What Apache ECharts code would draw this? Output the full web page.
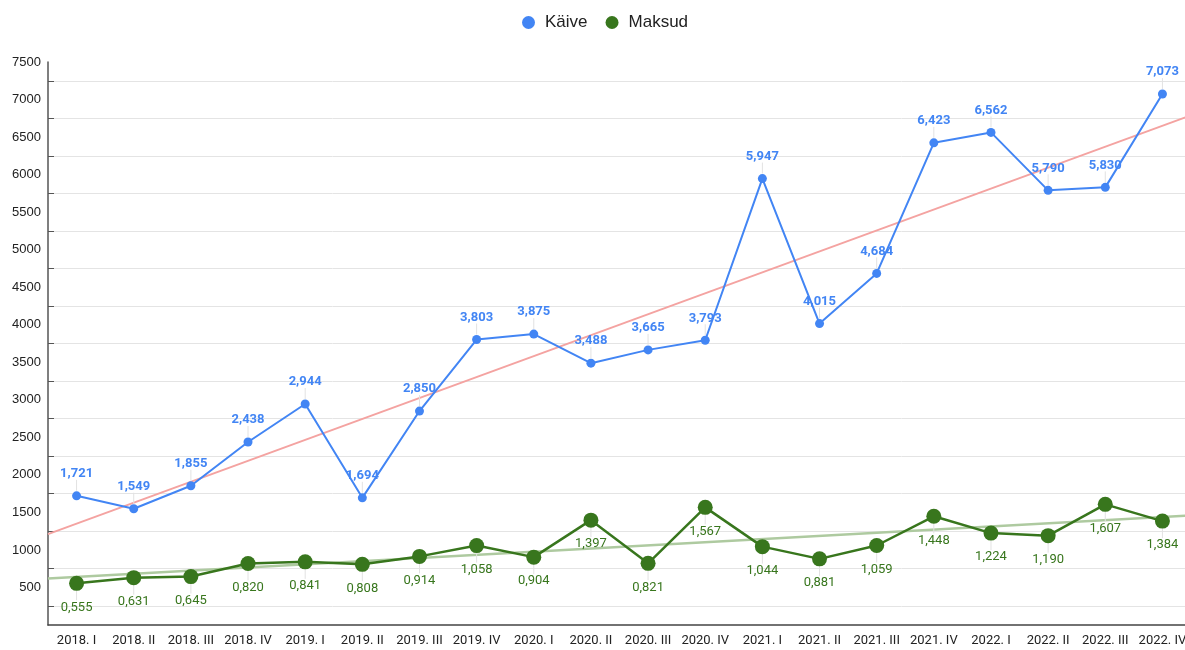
<!DOCTYPE html>
<html><head><meta charset="utf-8">
<script src="https://cdn.jsdelivr.net/npm/echarts@6/dist/echarts.min.js"></script>
<style>html,body{margin:0;padding:0;background:#fff}#c{width:1185px;height:650px}</style>
</head><body><div id="c"></div>
<script>
const categories = ['2018. I','2018. II','2018. III','2018. IV','2019. I','2019. II','2019. III','2019. IV','2020. I','2020. II','2020. III','2020. IV','2021. I','2021. II','2021. III','2021. IV','2022. I','2022. II','2022. III','2022. IV'];
const kaive = [1721,1549,1855,2438,2944,1694,2850,3803,3875,3488,3665,3793,5947,4015,4684,6423,6562,5790,5830,7073];
const maksud = [555,631,645,820,841,808,914,1058,904,1397,821,1567,1044,881,1059,1448,1224,1190,1607,1384];
const yLabelValues = [500,1000,1500,2000,2500,3000,3500,4000,4500,5000,5500,6000,6500,7000,7500];
const yTickValues = [250,750,1250,1750,2250,2750,3250,3750,4250,4750,5250,5750,6250,6750,7250];

function trend(vals){
  const n = vals.length; let sx=0, sy=0, sxy=0, sxx=0;
  vals.forEach((v,i)=>{sx+=i;sy+=v;sxy+=i*v;sxx+=i*i;});
  const b = (n*sxy - sx*sy)/(n*sxx - sx*sx); const a = (sy - b*sx)/n;
  const x0 = -0.5, x1 = n - 0.5;
  return [[x0, a+b*x0],[x1, a+b*x1]];
}
const fmt = v => (v/1000).toFixed(3).replace('.', ',');

function leader(vals, from, to){
  return {type:'custom', data:vals.map((v,i)=>[i,v]), silent:true, z:2,
    renderItem:(params, api)=>{
      const p = api.coord([api.value(0), api.value(1)]);
      return {type:'line', shape:{x1:p[0], y1:p[1]+from, x2:p[0], y2:p[1]+to},
        style:{stroke:'#e2e2e2', lineWidth:1}};
    }};
}

const chart = echarts.init(document.getElementById('c'));
chart.setOption({
  animation:false,
  legend:{data:['Käive','Maksud'], top:9, left:517, icon:'circle', itemWidth:13, itemHeight:13, itemGap:18,
    textStyle:{fontFamily:'Liberation Sans, Arial', fontSize:17, color:'#222', padding:[0,0,0,5]}},
  grid:{left:48, top:62, width:1143, height:563, outerBoundsMode:'none', containLabel:false},
  xAxis:[{type:'category', data:categories, boundaryGap:true,
    axisLine:{lineStyle:{color:'#444', width:1.5}},
    axisTick:{alignWithLabel:true, length:5, lineStyle:{color:'#444'}},
    axisLabel:{fontFamily:'Roboto', fontSize:13, color:'#222', margin:9, interval:0, hideOverlap:false}},
   {type:'value', min:-0.5, max:categories.length-0.5, show:false}],
  yAxis:{type:'value', min:0, max:7500, interval:250,
    axisLine:{show:true, onZero:false, lineStyle:{color:'#555', width:1.5}},
    axisTick:{show:true, inside:true, length:6, customValues:yTickValues, lineStyle:{color:'#555'}},
    axisLabel:{customValues:yLabelValues, formatter:v=>String(v), fontFamily:'Liberation Sans, Arial', fontSize:13, color:'#222', margin:7},
    splitLine:{lineStyle:{color:'#e4e4e4', width:1}}},
  series:[
    {name:'KäiveTrend', type:'line', xAxisIndex:1, data:trend(kaive), symbol:'none', silent:true,
      lineStyle:{color:'#f4a3a1', width:2}, z:1},
    {name:'MaksudTrend', type:'line', xAxisIndex:1, data:trend(maksud), symbol:'none', silent:true,
      lineStyle:{color:'#aecaa0', width:2.5}, z:1},
    leader(kaive, -5, -16),
    leader(maksud, 7, 17),
    {name:'Käive', type:'line', data:kaive, symbol:'circle', symbolSize:9,
      itemStyle:{color:'#4285f4'}, lineStyle:{color:'#4285f4', width:2}, z:3,
      label:{show:true, position:'top', distance:11, formatter:p=>fmt(p.value),
        fontFamily:'Roboto', fontWeight:'bold', fontSize:13, color:'#4285f4'}},
    {name:'Maksud', type:'line', data:maksud, symbol:'circle', symbolSize:15,
      itemStyle:{color:'#38761d'}, lineStyle:{color:'#38761d', width:2.5}, z:3,
      label:{show:true, position:'bottom', distance:10, formatter:p=>fmt(p.value),
        fontFamily:'Roboto', fontSize:13, color:'#38761d'}}
  ]
});
</script></body></html>
